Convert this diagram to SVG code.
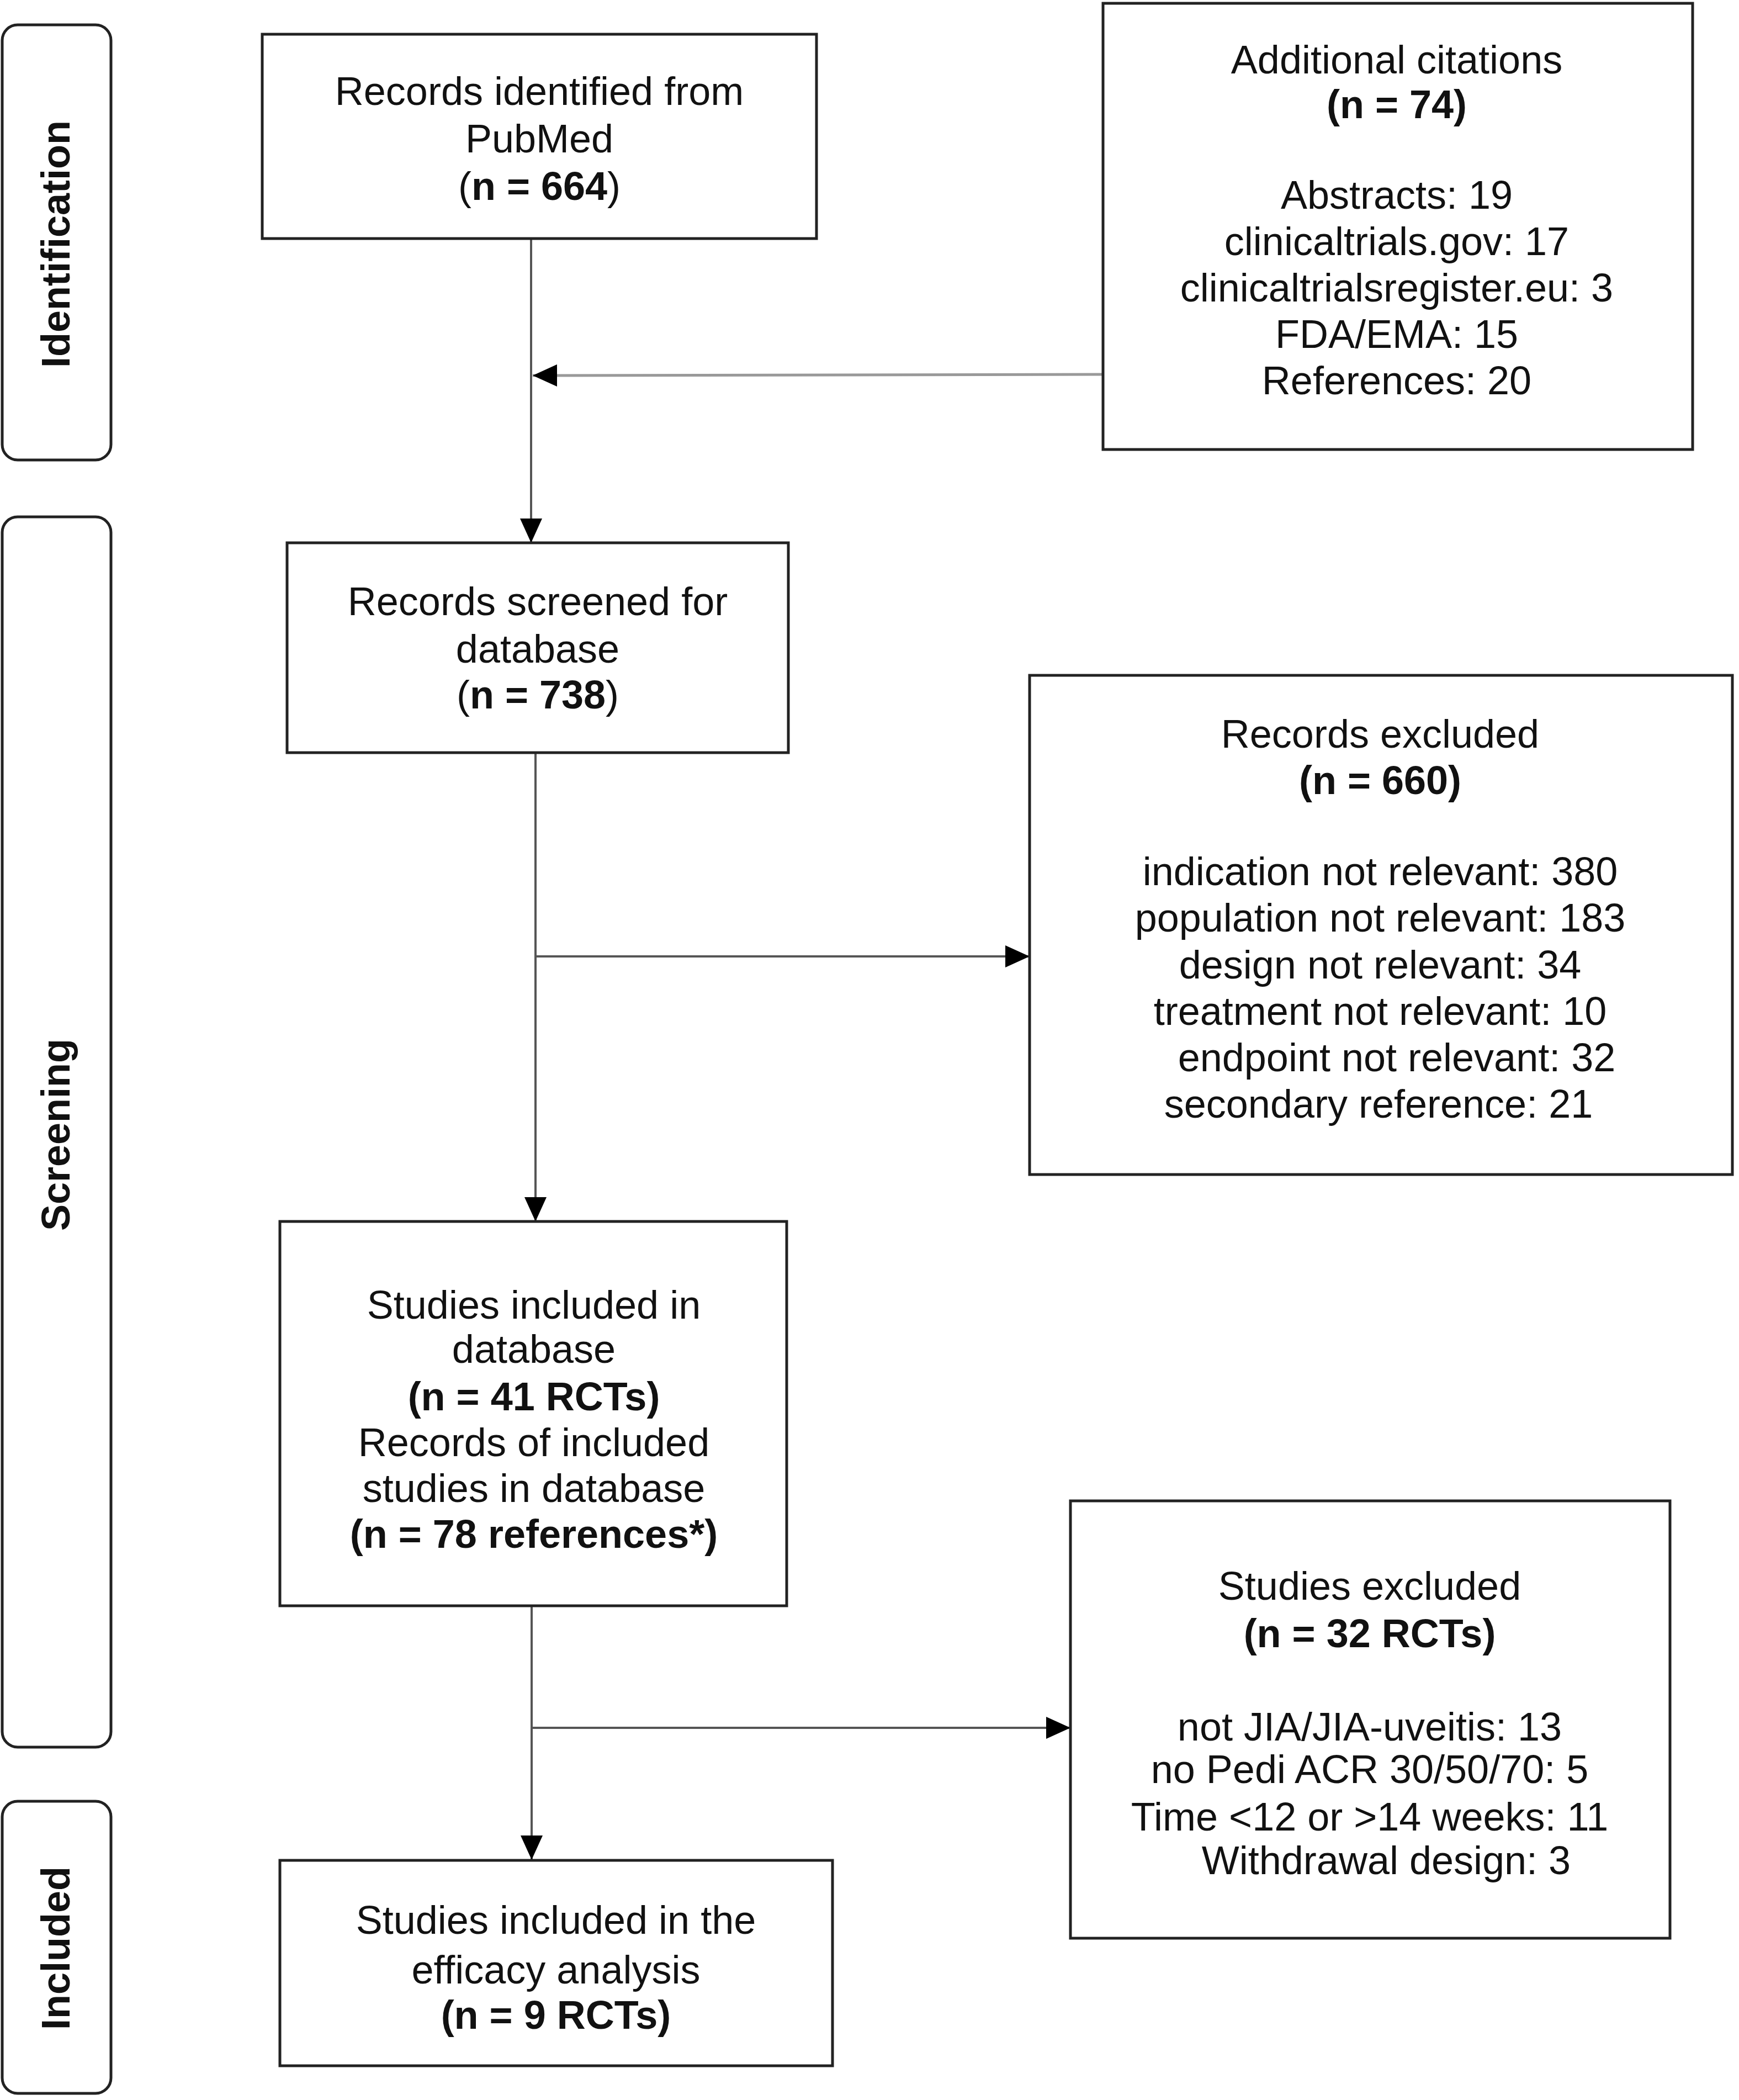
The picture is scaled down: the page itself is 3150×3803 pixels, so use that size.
<svg xmlns="http://www.w3.org/2000/svg" width="3150" height="3803" viewBox="0 0 3150 3803">
<style>
.lane{fill:#fff;stroke:#222;stroke-width:5}
.box{fill:#fff;stroke:#222;stroke-width:5}
.t{font-family:"Liberation Sans",Arial,sans-serif;font-size:72px;fill:#111;text-anchor:middle}
.b{font-weight:bold}
.lt{font-family:"Liberation Sans",Arial,sans-serif;font-size:72px;font-weight:bold;fill:#111;text-anchor:middle}
.c{stroke:#555;stroke-width:4;fill:none}
.cg{stroke:#999;stroke-width:5;fill:none}
</style>
<defs>
<marker id="ah" viewBox="0 0 44 40" refX="44" refY="20" markerWidth="44" markerHeight="40" markerUnits="userSpaceOnUse" orient="auto">
<path d="M0,0 L44,20 L0,40 Z" fill="#000"/>
</marker>
</defs>
<rect width="3150" height="3803" fill="#fff"/>
<g id="lane-identification">
<rect class="lane" x="4" y="45" width="197" height="788" rx="28" ry="28"/>
<text class="lt" transform="translate(126,442) rotate(-90)">Identification</text>
</g>
<g id="lane-screening">
<rect class="lane" x="4" y="936" width="197" height="2228" rx="28" ry="28"/>
<text class="lt" transform="translate(126,2055) rotate(-90)">Screening</text>
</g>
<g id="lane-included">
<rect class="lane" x="4" y="3262" width="197" height="529" rx="28" ry="28"/>
<text class="lt" transform="translate(126,3528) rotate(-90)">Included</text>
</g>
<g id="connectors">
<line class="c" x1="962" y1="432" x2="962" y2="983" marker-end="url(#ah)"/>
<line class="cg" x1="1998" y1="678" x2="965" y2="680" marker-end="url(#ah)"/>
<line class="c" x1="970" y1="1363" x2="970" y2="2212" marker-end="url(#ah)"/>
<line class="c" x1="970" y1="1732" x2="1865" y2="1732" marker-end="url(#ah)"/>
<line class="c" x1="963" y1="2908" x2="963" y2="3368" marker-end="url(#ah)"/>
<line class="c" x1="963" y1="3129" x2="1939" y2="3129" marker-end="url(#ah)"/>
</g>
<g id="node-pubmed">
<rect class="box" x="475" y="62" width="1004" height="370"/>
<text class="t" x="977" y="190">Records identified from</text>
<text class="t" x="977" y="276">PubMed</text>
<text class="t" x="977" y="362">(<tspan class="b">n = 664</tspan>)</text>
</g>
<g id="node-additional">
<rect class="box" x="1998" y="6" width="1068" height="808"/>
<text class="t" x="2530" y="133">Additional citations</text>
<text class="t b" x="2530" y="214">(n = 74)</text>
<text class="t" x="2530" y="378">Abstracts: 19</text>
<text class="t" x="2530" y="462">clinicaltrials.gov: 17</text>
<text class="t" x="2530" y="546">clinicaltrialsregister.eu: 3</text>
<text class="t" x="2530" y="630">FDA/EMA: 15</text>
<text class="t" x="2530" y="714">References: 20</text>
</g>
<g id="node-screened">
<rect class="box" x="520" y="983" width="908" height="380"/>
<text class="t" x="974" y="1114">Records screened for</text>
<text class="t" x="974" y="1200">database</text>
<text class="t" x="974" y="1283">(<tspan class="b">n = 738</tspan>)</text>
</g>
<g id="node-records-excluded">
<rect class="box" x="1865" y="1223" width="1273" height="904"/>
<text class="t" x="2500" y="1354">Records excluded</text>
<text class="t b" x="2500" y="1438">(n = 660)</text>
<text class="t" x="2500" y="1603">indication not relevant: 380</text>
<text class="t" x="2500" y="1687">population not relevant: 183</text>
<text class="t" x="2500" y="1772">design not relevant: 34</text>
<text class="t" x="2500" y="1856">treatment not relevant: 10</text>
<text class="t" x="2530" y="1940">endpoint not relevant: 32</text>
<text class="t" x="2497" y="2024">secondary reference: 21</text>
</g>
<g id="node-studies-included">
<rect class="box" x="507" y="2212" width="918" height="696"/>
<text class="t" x="967" y="2388">Studies included in</text>
<text class="t" x="967" y="2468">database</text>
<text class="t b" x="967" y="2554">(n = 41 RCTs)</text>
<text class="t" x="967" y="2637">Records of included</text>
<text class="t" x="967" y="2720">studies in database</text>
<text class="t b" x="967" y="2803">(n = 78 references*)</text>
</g>
<g id="node-studies-excluded">
<rect class="box" x="1939" y="2718" width="1086" height="792"/>
<text class="t" x="2481" y="2897">Studies excluded</text>
<text class="t b" x="2481" y="2983">(n = 32 RCTs)</text>
<text class="t" x="2481" y="3152">not JIA/JIA-uveitis: 13</text>
<text class="t" x="2481" y="3229">no Pedi ACR 30/50/70: 5</text>
<text class="t" x="2481" y="3315">Time &lt;12 or &gt;14 weeks: 11</text>
<text class="t" x="2511" y="3394">Withdrawal design: 3</text>
</g>
<g id="node-efficacy">
<rect class="box" x="507" y="3369" width="1001" height="372"/>
<text class="t" x="1007" y="3502">Studies included in the</text>
<text class="t" x="1007" y="3592">efficacy analysis</text>
<text class="t b" x="1007" y="3674">(n = 9 RCTs)</text>
</g>
</svg>
